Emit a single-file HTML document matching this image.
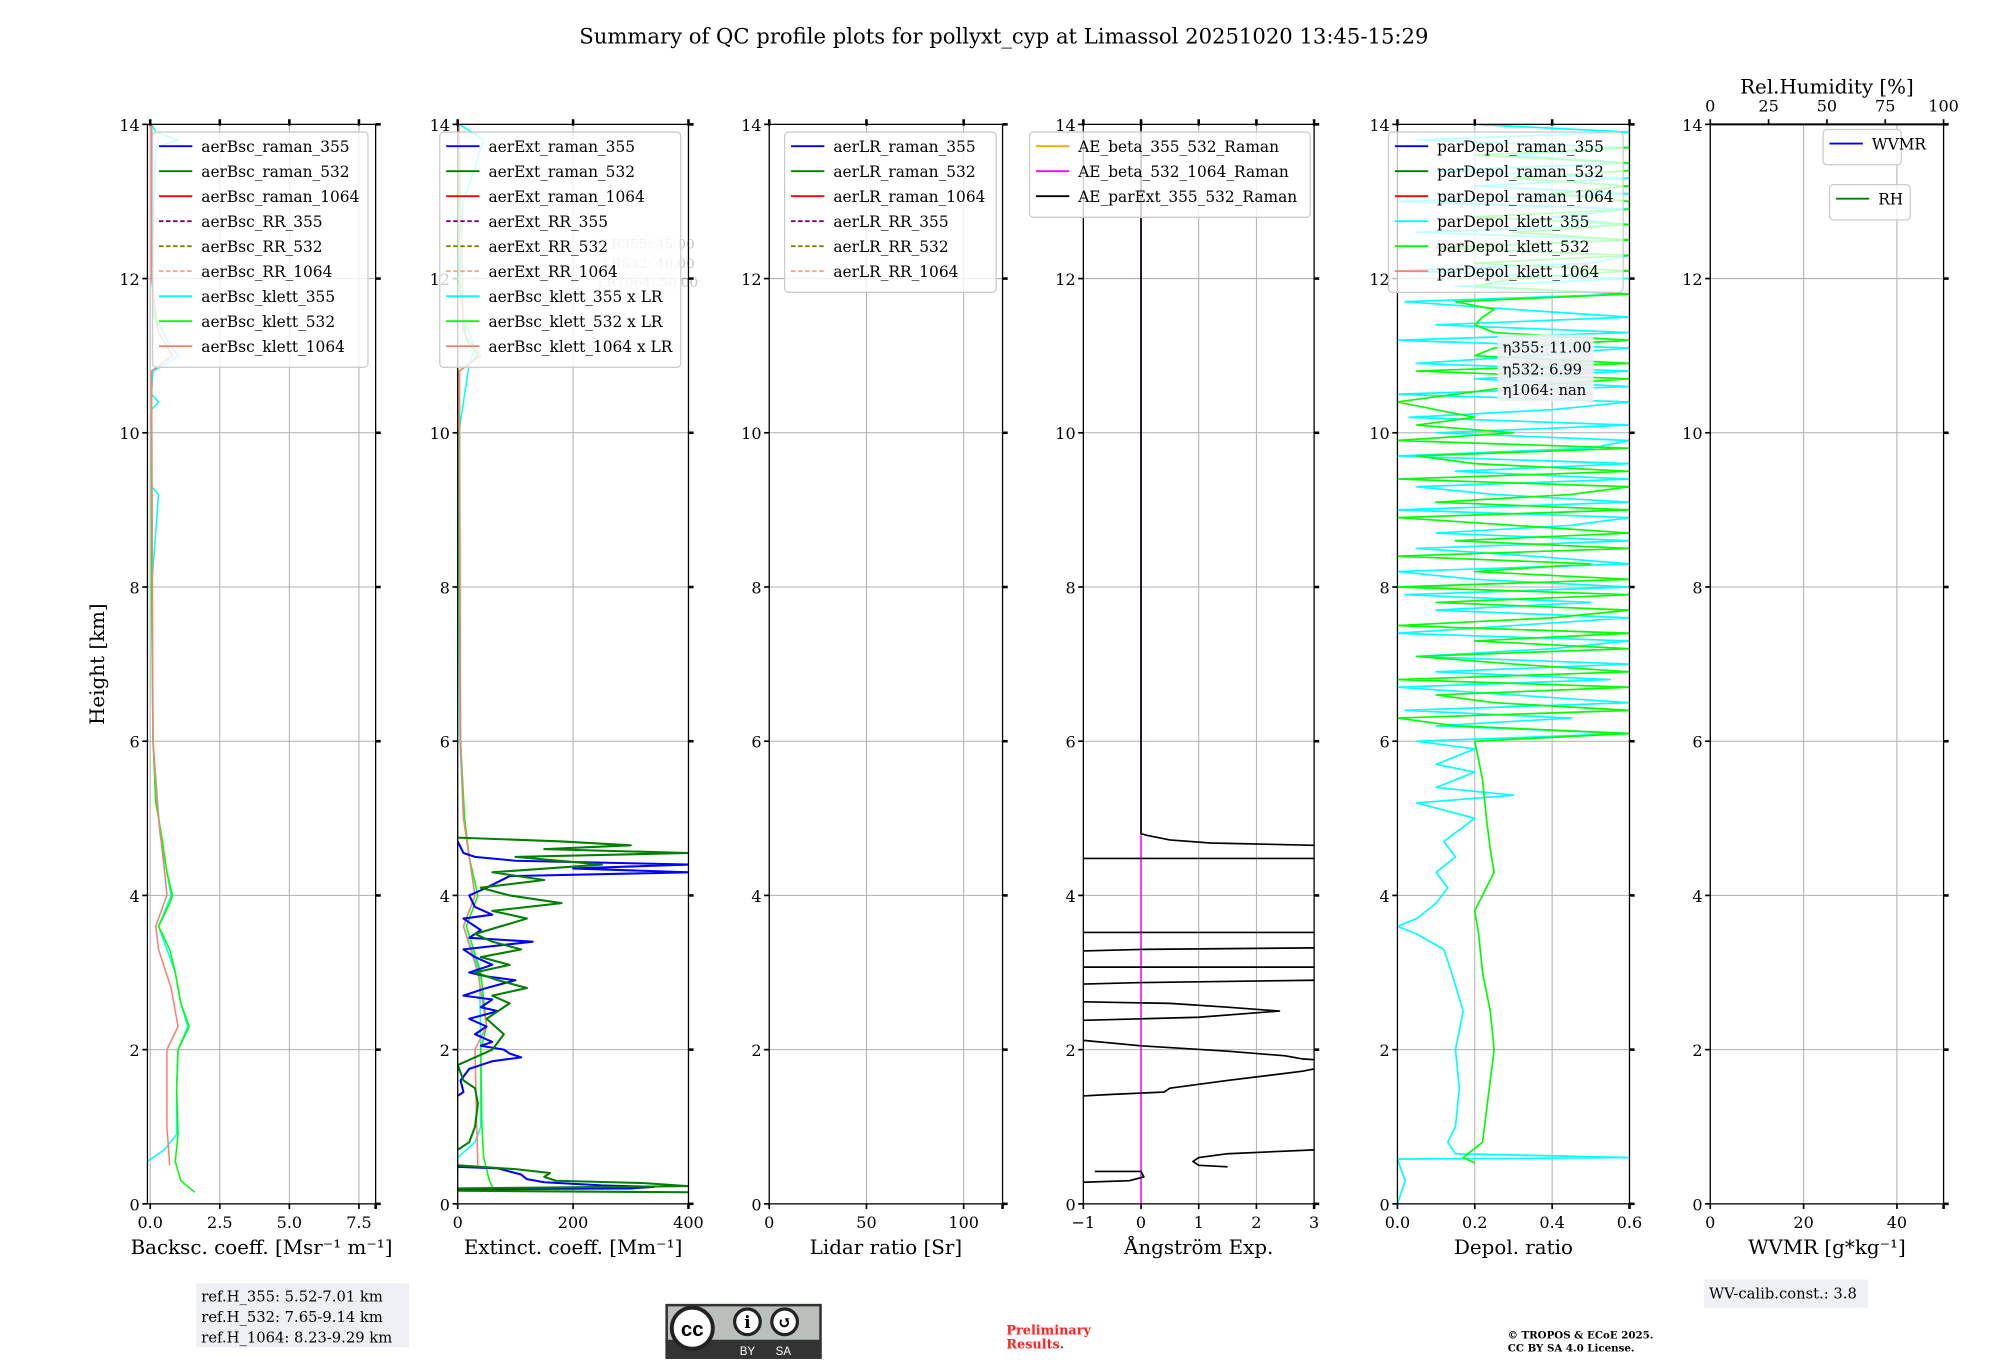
<!DOCTYPE html>
<html><head><meta charset="utf-8">
<style>
html,body{margin:0;padding:0;background:#fff;}
svg{display:block;font-family:"DejaVu Serif","Liberation Serif",serif;}
</style></head>
<body>
<svg id="fig" width="2000" height="1360" viewBox="0 0 1560 1060.8" xmlns="http://www.w3.org/2000/svg">
<rect width="1560" height="1061" fill="#fff"/>
<text x="783" y="34" font-size="16.5" text-anchor="middle">Summary of QC profile plots for pollyxt_cyp at Limassol 20251020 13:45-15:29</text>
<g id="plots"></g>
</svg>
<script>
// ---- data (heights in km) ----
const heightTicks=[0,2,4,6,8,10,12,14];
const bscTicks=[0,2.5,5,7.5];
const extTicks=[0,200,400];
const lrTicks=[0,50,100];
const aeTicks=[-1,0,1,2,3];
const depTicks=[0,0.2,0.4,0.6];
const wvTicks=[0,20,40];
const rhTicks=[0,25,50,75,100];
// backscatter [value,height]
const bscKlett532=[[1.6,0.15],[1.1,0.3],[0.9,0.55],[1.0,0.9],[0.95,1.5],[1.0,2.0],[1.4,2.3],[1.1,2.6],[0.9,3.0],[0.7,3.3],[0.3,3.6],[0.7,3.9],[0.8,4.0],[0.6,4.3],[0.4,4.8],[0.2,5.2],[0.1,6],[0.05,8],[0.05,10.8],[0.8,11.0],[0.3,11.3],[0.1,11.6],[0.05,14]];
const bscKlett355=[[-0.1,0.55],[0.5,0.7],[0.95,0.9],[0.95,1.5],[1.0,2],[1.35,2.3],[1.1,2.6],[0.9,3],[0.3,3.6],[0.75,4],[0.35,4.8],[0.1,6],[0.05,8],[0.3,9.2],[0.05,9.3],[0.05,10.3],[0.3,10.4],[0.05,10.5],[0.1,10.8],[0.6,10.9],[1.0,11.0],[0.6,11.2],[0.2,11.5],[0.05,12],[0.2,13.7],[1.0,13.8],[0.2,13.9],[0.05,14]];
const bscKlett1064=[[0.7,0.5],[0.6,1.0],[0.6,2.0],[1.0,2.3],[0.75,2.8],[0.3,3.3],[0.2,3.6],[0.6,4.0],[0.55,4.2],[0.3,5],[0.1,6],[0.05,10.8],[0.8,11.0],[0.3,11.3],[0.05,12],[0.05,14]];
// extinction [value,height], null = gap
const extRaman355=[[0,0.19],[300,0.2],[340,0.22],[250,0.24],[150,0.28],[120,0.32],[110,0.38],[90,0.42],[70,0.46],[0,0.48],null,[0,1.4],[10,1.45],[5,1.6],[20,1.75],[60,1.85],[110,1.9],[90,1.95],[80,2.0],[40,2.05],[60,2.1],[30,2.2],[50,2.3],[20,2.4],[70,2.5],[40,2.55],[60,2.65],[10,2.7],[50,2.8],[100,2.9],[50,2.95],[20,3.0],[60,3.1],[30,3.2],[10,3.3],[130,3.4],[20,3.45],[40,3.55],[10,3.7],[60,3.75],[30,3.85],[20,4.0],[50,4.1],[90,4.25],[400,4.3],[200,4.35],[400,4.4],[100,4.45],[30,4.5],[10,4.55],[0,4.7]];
const extRaman532=[[400,0.15],[0,0.17],[0,0.2],[400,0.23],[320,0.27],[170,0.3],[150,0.35],[160,0.4],[100,0.45],[0,0.5],null,[0,0.7],[20,0.8],[30,1.0],[35,1.3],[30,1.5],[10,1.6],[0,1.8],[30,1.9],[60,2.0],[80,2.2],[50,2.4],[90,2.6],[60,2.7],[120,2.8],[70,2.9],[30,3.0],[90,3.1],[40,3.2],[110,3.3],[60,3.4],[30,3.5],[120,3.7],[60,3.8],[180,3.9],[90,4.0],[40,4.1],[150,4.2],[60,4.3],[250,4.4],[100,4.5],[400,4.55],[150,4.6],[300,4.65],[180,4.7],[0,4.75]];
const extKlett532=[[65,0.15],[55,0.3],[45,0.6],[42,1],[40,2],[50,2.3],[40,3],[15,3.6],[35,4],[20,4.5],[12,5],[5,6],[3,8],[3,10.8],[35,11.0],[15,11.2],[2,12],[2,14]];
const extKlett355=[[0,0.6],[30,0.8],[40,1],[40,2],[38,3],[10,3.6],[30,4],[10,5],[4,6],[2,8],[2,10],[20,10.9],[30,11.1],[10,11.5],[3,12],[10,13],[45,13.8],[3,14]];
const extKlett1064=[[35,0.5],[33,1],[30,2],[50,2.3],[35,3],[10,3.6],[30,4],[10,5],[5,6],[3,10.8],[40,11.0],[10,11.3],[2,14]];
// Angstrom [value,height]
const aeBeta532_1064=[[0,0],[0,14]];
const aeParExt=[[0,14],[0,4.8],[0.1,4.78],[0.5,4.72],[1.2,4.68],[3,4.65],null,[3,4.48],[-1,4.48],null,[-1,3.52],[3,3.52],null,[3,3.32],[0,3.3],[-1,3.28],null,[-1,3.07],[3,3.07],null,[3,2.9],[0,2.87],[-1,2.85],null,[-1,2.62],[0.5,2.6],[1.5,2.55],[2.4,2.5],[1.0,2.42],[0,2.4],[-1,2.38],null,[-1,2.12],[0,2.05],[1.5,1.98],[2.5,1.92],[2.8,1.88],[3,1.87],null,[3,1.75],[2.8,1.72],[1.5,1.6],[0.5,1.5],[0.4,1.45],[-0.5,1.42],[-1,1.4],null,[3,0.7],[1.5,0.65],[1.0,0.6],[0.9,0.55],[1.0,0.5],[1.5,0.48],null,[-0.8,0.42],[0,0.42],[0.05,0.35],[-0.2,0.3],[-1,0.28]];
// depol low-level [value,height]
const depKlett355Low=[[0,0],[0.02,0.3],[0,0.58],[0.6,0.6],[0.15,0.65],[0.13,0.8],[0.15,1.0],[0.16,1.5],[0.15,2.0],[0.17,2.5],[0.14,3.0],[0.12,3.3],[0.05,3.5],[0,3.6],[0.05,3.7],[0.1,3.9],[0.13,4.1],[0.1,4.3],[0.15,4.5],[0.12,4.7],[0.2,5.0],[0.05,5.2],[0.3,5.3],[0.1,5.4],[0.2,5.6],[0.1,5.7],[0.2,5.9],[0.05,6.0]];
const depKlett532Low=[[0.2,0.53],[0.17,0.6],[0.22,0.8],[0.23,1.2],[0.24,1.6],[0.25,2.0],[0.24,2.5],[0.22,3.0],[0.21,3.5],[0.2,3.8],[0.22,4.0],[0.25,4.3],[0.24,4.6],[0.23,5.0],[0.22,5.5],[0.2,6.0]];
// depol upper levels: range bins from 6.0 km every 0.1 km
const depUpperStart=6.0, depUpperBin=0.1;
const depKlett355Up=[0.05,0.6,0.1,0.45,0.02,0.6,0.3,0.0,0.55,0.1,0.6,0.05,0.4,0.6,0.0,0.3,0.6,0.1,0.5,0.02,0.6,0.2,0.0,0.6,0.35,0.05,0.6,0.1,0.45,0.6,0.0,0.6,0.25,0.05,0.6,0.15,0.6,0.0,0.5,0.6,0.1,0.6,0.03,0.4,0.6,0.0,0.6,0.2,0.6,0.05,0.35,0.6,0.0,0.6,0.1,0.6,0.3,0.02,0.6,0.15,0.6,0.0,0.5,0.6,0.1,0.6,0.05,0.6,0.4,0.6,0.0,0.6,0.2,0.6,0.1,0.6,0.3,0.6,0.05,0.6,0.2];
const depKlett532Up=[0.2,0.6,0.15,0.0,0.6,0.25,0.1,0.6,0.0,0.6,0.3,0.05,0.6,0.2,0.6,0.0,0.4,0.6,0.1,0.6,0.0,0.6,0.2,0.5,0.0,0.6,0.15,0.6,0.3,0.0,0.6,0.1,0.45,0.6,0.0,0.6,0.2,0.05,0.6,0.0,0.3,0.05,0.2,0.1,0.0,0.15,0.3,0.6,0.05,0.6,0.2,0.25,0.6,0.25,0.2,0.22,0.25,0.15,0.6,0.2,0.3,0.6,0.2,0.6,0.1,0.6,0.3,0.6,0.2,0.6,0.6,0.4,0.6,0.3,0.6,0.6,0.2,0.6,0.6,0.6,0.6];

// ---- layout ----
const NS='http://www.w3.org/2000/svg';
const root=document.getElementById('plots');
const Y0=939, Y1=97, HMAX=14;
function yS(h){return Y0-(h/HMAX)*(Y0-Y1);}
function mk(tag,attrs,parent){const e=document.createElementNS(NS,tag);for(const k in attrs)e.setAttribute(k,attrs[k]);(parent||root).appendChild(e);return e;}
function txt(s,attrs,parent){const e=mk('text',attrs,parent);e.textContent=s;return e;}

const panels=[
 {name:'backscatter',x0:115,x1:293,min:-0.1,max:8.1,ticks:bscTicks,fmt:v=>v.toFixed(1),label:'Backsc. coeff. [Msr\u207B\u00B9 m\u207B\u00B9]'},
 {name:'extinction',x0:357,x1:537,min:0,max:400,ticks:extTicks,fmt:v=>String(v),label:'Extinct. coeff. [Mm\u207B\u00B9]'},
 {name:'lidar-ratio',x0:600,x1:782,min:0,max:120,ticks:lrTicks,fmt:v=>String(v),label:'Lidar ratio [Sr]'},
 {name:'angstrom',x0:845,x1:1025,min:-1,max:3,ticks:aeTicks,fmt:v=>v<0?'\u2212'+(-v):String(v),label:'\u00C5ngstr\u00F6m Exp.'},
 {name:'depol',x0:1090,x1:1271,min:0,max:0.6,ticks:depTicks,fmt:v=>v.toFixed(1),label:'Depol. ratio'},
 {name:'wvmr',x0:1334,x1:1516,min:0,max:50,ticks:wvTicks,fmt:v=>String(v),label:'WVMR [g*kg\u207B\u00B9]'}
];
function xf(p){return v=>p.x0+(v-p.min)/(p.max-p.min)*(p.x1-p.x0);}

panels.forEach((p,i)=>{
  const g=mk('g',{});
  
  
  p.g=g;
  const xs=xf(p);
  const cp=mk('clipPath',{id:'cp'+i},g);
  mk('rect',{x:p.x0,y:Y1,width:p.x1-p.x0,height:Y0-Y1},cp);
  heightTicks.forEach(h=>{ if(h>0&&h<14) mk('line',{x1:p.x0,x2:p.x1,y1:yS(h),y2:yS(h),stroke:'#b0b0b0','stroke-width':0.8},g);});
  p.ticks.forEach(v=>{const x=xs(v); mk('line',{x1:x,x2:x,y1:Y1,y2:Y0,stroke:'#b0b0b0','stroke-width':0.8},g);});
  p.plot=mk('g',{'clip-path':'url(#cp'+i+')'},g);
});

function drawLine(p,data,color,w,name,opacity){
  const xs=xf(p); let d='',pen=false;
  data.forEach(pt=>{ if(pt===null){pen=false;return;} d+=(pen?'L':'M')+xs(pt[0]).toFixed(2)+' '+yS(pt[1]).toFixed(2); pen=true;});
  const e=mk('path',{d:d,fill:'none',stroke:color,'stroke-width':w,'stroke-linejoin':'round'},p.plot);
  if(opacity) e.setAttribute('opacity',opacity);
  
  
}
function binned(vals){return vals.map((v,k)=>[v,depUpperStart+k*depUpperBin]);}

const P=panels;
drawLine(P[0],bscKlett355,'#00ffff',1.2,'bsc-klett-355-line');
drawLine(P[0],bscKlett532,'#00ff00',1.2,'bsc-klett-532-line');
drawLine(P[0],bscKlett1064,'#fa8072',1.2,'bsc-klett-1064-line');
drawLine(P[1],extKlett355,'#00ffff',1.2,'ext-klett-355-line');
drawLine(P[1],extKlett532,'#00ff00',1.2,'ext-klett-532-line');
drawLine(P[1],extKlett1064,'#fa8072',1.2,'ext-klett-1064-line');
drawLine(P[1],extRaman355,'#0000ff',1.6,'ext-raman-355-line');
drawLine(P[1],extRaman532,'#007f00',1.6,'ext-raman-532-line');
drawLine(P[3],aeBeta532_1064,'#ff00ff',1.2,'ae-beta-532-1064-line');
drawLine(P[3],aeParExt,'#000',1.3,'ae-parext-355-532-line');
drawLine(P[4],depKlett355Low.concat(binned(depKlett355Up)),'#00ffff',1.3,'depol-klett-355-line');
drawLine(P[4],depKlett532Low.concat(binned(depKlett532Up)),'#00ff00',1.3,'depol-klett-532-line');

panels.forEach((p,i)=>{
  const g=p.g, xs=xf(p);
  mk('rect',{x:p.x0,y:Y1,width:p.x1-p.x0,height:Y0-Y1,fill:'none',stroke:'#000','stroke-width':1},g);
  heightTicks.forEach(h=>{
    mk('line',{x1:p.x0-4,x2:p.x0,y1:yS(h),y2:yS(h),stroke:'#000','stroke-width':1.3},g);
    mk('line',{x1:p.x1,x2:p.x1+4,y1:yS(h),y2:yS(h),stroke:'#000','stroke-width':2},g);
    const t=txt(String(h),{x:p.x0-6,y:yS(h)+5,'font-size':12.5,'text-anchor':'end'},g);
    
    
  });
  p.ticks.forEach(v=>{
    const x=xs(v);
    mk('line',{x1:x,x2:x,y1:Y0,y2:Y0+4,stroke:'#000','stroke-width':1.3},g);
    if(i<5) mk('line',{x1:x,x2:x,y1:Y1-4,y2:Y1+1,stroke:'#000','stroke-width':2},g);
    const t=txt(p.fmt(v),{x:x,y:Y0+19,'font-size':12.5,'text-anchor':'middle'},g);
    
    
  });
  mk('line',{x1:p.x1,x2:p.x1,y1:Y0,y2:Y0+4,stroke:'#000','stroke-width':2},g);
  const xl=txt(p.label,{x:(p.x0+p.x1)/2,y:978,'font-size':15.5,'text-anchor':'middle'},g);
  
  
});
(function(){
  const p=P[5], g=p.g;
  const rx=v=>p.x0+v/100*(p.x1-p.x0);
  mk('line',{x1:p.x0,x2:p.x1,y1:Y1,y2:Y1,stroke:'#000','stroke-width':1.5},g);
  rhTicks.forEach(v=>{
    mk('line',{x1:rx(v),x2:rx(v),y1:Y1-4,y2:Y1,stroke:'#000','stroke-width':1.3},g);
    const t=txt(String(v),{x:rx(v),y:Y1-10,'font-size':12.5,'text-anchor':'middle'},g);
    
    
  });
  const t=txt('Rel.Humidity [%]',{x:(p.x0+p.x1)/2,y:73,'font-size':15.5,'text-anchor':'middle'},g);
  
  
})();
const yl=txt('Height [km]',{x:0,y:0,'font-size':15.5,'text-anchor':'middle',transform:'translate(81,518) rotate(-90)'});



function legend(x,y,w,entries,name,alpha){
  const g=mk('g',{});
  
  
  mk('rect',{x:x,y:y,width:w,height:entries.length*19.5+8,rx:3,fill:'#fff','fill-opacity':alpha||0.8,stroke:'#ccc','stroke-width':1},g);
  entries.forEach((e,k)=>{
    const cy=y+11+k*19.5;
    const l=mk('line',{x1:x+5,x2:x+31,y1:cy,y2:cy,stroke:e[1],'stroke-width':1.5},g);
    if(e[2]) l.setAttribute('stroke-dasharray','3.5,2');
    const t=txt(e[0],{x:x+38,y:cy+4.5,'font-size':12,textLength:null},g);
    t.removeAttribute('textLength');
    
    
  });
}
legend(119,103,168,[['aerBsc_raman_355','#0000ff'],['aerBsc_raman_532','#008000'],['aerBsc_raman_1064','#ff0000'],['aerBsc_RR_355','#800080',1],['aerBsc_RR_532','#808000',1],['aerBsc_RR_1064','#ffa07a',1],['aerBsc_klett_355','#00ffff'],['aerBsc_klett_532','#00ff00'],['aerBsc_klett_1064','#fa8072']],'backscatter-legend');
const lrg=mk('g',{opacity:0.35});


mk('rect',{x:466,y:180,width:64,height:50,fill:'#eef0f4'},lrg);
txt('LR355: 45.00',{x:470,y:194,'font-size':10.5,fill:'#555'},lrg);
txt('LR532: 40.00',{x:470,y:209,'font-size':10.5,fill:'#555'},lrg);
txt('LR1064: 50.00',{x:466,y:224,'font-size':10.5,fill:'#555'},lrg);
legend(343,103,188,[['aerExt_raman_355','#0000ff'],['aerExt_raman_532','#008000'],['aerExt_raman_1064','#ff0000'],['aerExt_RR_355','#800080',1],['aerExt_RR_532','#808000',1],['aerExt_RR_1064','#ffa07a',1],['aerBsc_klett_355 x LR','#00ffff'],['aerBsc_klett_532 x LR','#00ff00'],['aerBsc_klett_1064 x LR','#fa8072']],'extinction-legend');
legend(612,103,165,[['aerLR_raman_355','#0000ff'],['aerLR_raman_532','#008000'],['aerLR_raman_1064','#ff0000'],['aerLR_RR_355','#800080',1],['aerLR_RR_532','#808000',1],['aerLR_RR_1064','#ffa07a',1]],'lidar-ratio-legend');
legend(803,103,219,[['AE_beta_355_532_Raman','#ffa500'],['AE_beta_532_1064_Raman','#ff00ff'],['AE_parExt_355_532_Raman','#000']],'angstrom-legend');
legend(1083,103,183,[['parDepol_raman_355','#0000ff'],['parDepol_raman_532','#008000'],['parDepol_raman_1064','#ff0000'],['parDepol_klett_355','#00ffff'],['parDepol_klett_532','#00ff00'],['parDepol_klett_1064','#fa8072']],'depol-legend',0.75);
legend(1422,101,61,[['WVMR','#0000ff']],'wvmr-legend');
legend(1427,144,63,[['RH','#008000']],'rh-legend');
const eg=mk('g',{});


mk('rect',{x:1168,y:261,width:75,height:52,fill:'#eef0f4','fill-opacity':0.9},eg);
txt('\u03B7355: 11.00',{x:1172,y:275,'font-size':11.5},eg);
txt('\u03B7532: 6.99',{x:1172,y:292,'font-size':11.5},eg);
txt('\u03B71064: nan',{x:1172,y:308,'font-size':11.5},eg);

const rf=mk('g',{});


mk('rect',{x:153,y:1001,width:166,height:50,fill:'#eef0f4'},rf);
txt('ref.H_355: 5.52-7.01 km',{x:157,y:1015,'font-size':11.5},rf);
txt('ref.H_532: 7.65-9.14 km',{x:157,y:1031,'font-size':11.5},rf);
txt('ref.H_1064: 8.23-9.29 km',{x:157,y:1047,'font-size':11.5},rf);
const cc=mk('g',{});


mk('rect',{x:519,y:1017,width:122,height:43,fill:'#333'},cc);
mk('rect',{x:521,y:1019,width:118,height:26,fill:'#bbbfbb'},cc);
mk('circle',{cx:540,cy:1036,r:16,fill:'#fff',stroke:'#222','stroke-width':3},cc);
txt('cc',{x:540,y:1042,'font-size':16,'font-weight':'bold','text-anchor':'middle','font-family':'Liberation Sans'},cc);
mk('circle',{cx:583,cy:1031,r:10,fill:'#fff',stroke:'#222','stroke-width':2.5},cc);
mk('circle',{cx:612,cy:1031,r:10,fill:'#fff',stroke:'#222','stroke-width':2.5},cc);
txt('i',{x:583,y:1036,'font-size':13,'font-weight':'bold','text-anchor':'middle'},cc);
txt('\u21BA',{x:612,y:1036,'font-size':13,'font-weight':'bold','text-anchor':'middle'},cc);
txt('BY',{x:583,y:1057,'font-size':9,fill:'#fff','text-anchor':'middle','font-family':'Liberation Sans'},cc);
txt('SA',{x:611,y:1057,'font-size':9,fill:'#fff','text-anchor':'middle','font-family':'Liberation Sans'},cc);
const pr=txt('Preliminary',{x:785,y:1041,'font-size':10,fill:'#ff2020','font-weight':'bold'});


const pr2=txt('Results.',{x:785,y:1052,'font-size':10,fill:'#ff2020','font-weight':'bold'});


const cp1=txt('\u00A9 TROPOS & ECoE 2025.',{x:1176,y:1044,'font-size':8,'font-weight':'bold'});


const cp2=txt('CC BY SA 4.0 License.',{x:1176,y:1054,'font-size':8,'font-weight':'bold'});


const wv=mk('g',{});


mk('rect',{x:1329,y:998,width:128,height:22,fill:'#eef0f4'},wv);
txt('WV-calib.const.: 3.8',{x:1333,y:1013,'font-size':11.5},wv);
</script>
</body></html>
